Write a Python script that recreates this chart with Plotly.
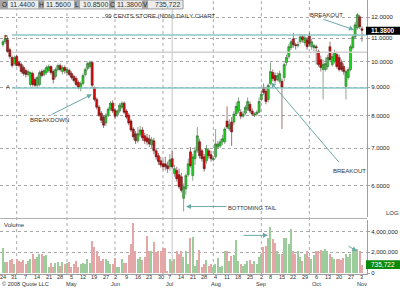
import plotly.graph_objects as go
import pandas as pd
import math

# ---------------- data ----------------
holidays = ["2008-05-26", "2008-07-04", "2008-09-01"]
dates = [d for d in pd.bdate_range("2008-03-24", "2008-11-03") if d.strftime("%Y-%m-%d") not in holidays]

open_ = [10.72, 10.85, 10.94, 10.50, 10.17, 9.92, 10.21, 9.96, 9.88, 9.76,
         9.64, 9.48, 9.10, 9.52, 9.29, 9.07, 9.10, 9.60, 9.48, 9.56,
         9.64, 9.80, 9.60, 9.41, 9.68, 9.84, 9.60, 9.76, 9.56, 9.64,
         9.52, 9.41, 9.33, 9.18, 8.96, 9.14, 9.48, 9.72, 9.80, 9.96,
         8.99, 8.56, 8.29, 8.09, 7.96, 7.77, 8.02, 8.22, 8.43, 8.19,
         8.02, 8.16, 8.29, 8.43, 8.16, 8.02, 7.83, 7.58, 7.43, 7.22,
         7.40, 7.55, 7.37, 7.31, 7.28, 7.10, 7.22, 6.93, 6.79, 6.65,
         6.57, 6.57, 6.52, 6.49, 6.71, 6.31, 6.39, 6.28, 6.23, 5.70,
         5.93, 6.28, 6.90, 6.26, 6.71, 6.93, 7.19, 6.93, 6.76, 6.65,
         6.93, 6.82, 6.68, 6.76, 7.04, 7.07, 7.19, 7.19, 7.83, 7.58,
         7.80, 7.80, 8.06, 8.16, 8.12, 7.99, 8.09, 8.22, 8.39, 8.16,
         8.02, 8.06, 8.12, 8.56, 8.99, 8.85, 8.56, 9.14, 9.56, 9.44,
         9.29, 9.22, 9.22, 9.37, 9.96, 10.21, 10.59, 10.98, 10.72, 10.68,
         10.85, 11.07, 10.81, 10.94, 11.12, 10.63, 10.59, 10.63, 10.42, 10.08,
         9.68, 9.68, 9.80, 10.63, 9.88, 10.00, 10.29, 10.17, 9.96, 9.80,
         9.03, 9.37, 9.68, 10.59, 11.07, 11.49, 12.02, 11.44]

close = [10.85, 10.98, 10.42, 10.21, 9.84, 10.17, 9.84, 9.84, 9.60, 9.52,
         9.48, 9.60, 9.56, 9.10, 9.07, 9.37, 9.56, 9.44, 9.64, 9.76,
         9.80, 9.56, 9.29, 9.68, 9.84, 9.68, 9.76, 9.64, 9.68, 9.48,
         9.37, 9.25, 9.10, 8.99, 9.14, 9.44, 9.68, 9.92, 9.96, 9.07,
         8.56, 8.29, 8.02, 7.86, 7.70, 8.02, 8.22, 8.43, 8.16, 7.99,
         8.16, 8.36, 8.43, 8.12, 7.96, 7.77, 7.55, 7.34, 7.22, 7.43,
         7.55, 7.31, 7.22, 7.19, 7.13, 7.25, 6.93, 6.76, 6.63, 6.54,
         6.49, 6.49, 6.44, 6.68, 6.49, 6.44, 6.18, 5.98, 5.89, 5.98,
         6.26, 6.57, 6.52, 6.76, 6.93, 7.37, 6.79, 6.71, 6.44, 6.99,
         6.79, 6.71, 6.71, 7.13, 7.13, 7.19, 7.28, 7.58, 7.64, 7.73,
         7.49, 8.06, 8.32, 8.49, 7.99, 8.06, 8.29, 8.49, 8.16, 8.06,
         8.06, 8.12, 8.49, 8.74, 8.81, 8.49, 9.07, 9.60, 9.33, 9.25,
         9.44, 9.52, 8.99, 9.88, 10.17, 10.63, 10.85, 10.72, 10.68, 10.72,
         11.07, 10.94, 11.03, 10.63, 10.76, 10.85, 10.68, 10.59, 9.88, 9.76,
         9.88, 9.92, 10.17, 10.08, 10.21, 10.37, 9.80, 9.68, 9.68, 9.60,
         9.60, 9.68, 10.63, 11.07, 11.63, 12.12, 11.54, 11.38]

high = [10.94, 11.17, 11.03, 10.59, 10.25, 10.25, 10.29, 10.04, 9.96, 9.84,
        9.72, 9.68, 9.60, 9.60, 9.37, 9.44, 9.64, 9.68, 9.72, 9.84,
        9.88, 9.84, 9.68, 9.76, 9.92, 9.92, 9.84, 9.84, 9.76, 9.72,
        9.60, 9.48, 9.41, 9.25, 9.22, 9.52, 9.76, 10.00, 10.04, 10.00,
        9.03, 8.63, 8.36, 8.16, 8.02, 8.09, 8.29, 8.49, 8.53, 8.26,
        8.22, 8.43, 8.49, 8.49, 8.22, 8.09, 7.89, 7.64, 7.52, 7.64,
        7.67, 7.64, 7.46, 7.43, 7.40, 7.34, 7.31, 6.99, 6.87, 6.76,
        6.68, 6.76, 6.63, 6.84, 6.93, 6.54, 6.49, 6.44, 6.33, 6.06,
        6.31, 6.71, 7.04, 6.84, 7.04, 7.64, 7.28, 6.99, 6.84, 7.10,
        7.01, 6.93, 6.79, 7.58, 7.22, 7.28, 7.40, 7.64, 8.32, 7.89,
        7.96, 8.16, 8.46, 8.63, 8.22, 8.16, 8.36, 8.63, 8.49, 8.26,
        8.12, 8.19, 8.63, 8.88, 9.14, 8.96, 9.14, 9.96, 9.68, 9.56,
        9.56, 9.64, 9.33, 9.96, 10.29, 10.76, 10.94, 11.26, 10.81, 10.85,
        11.21, 11.17, 11.17, 11.07, 11.26, 10.98, 10.76, 10.72, 10.50, 10.25,
        10.08, 10.17, 10.29, 10.85, 10.33, 10.50, 10.42, 10.29, 10.08, 9.92,
        9.68, 9.76, 10.72, 11.17, 11.77, 12.21, 12.12, 11.56]

low = [10.63, 10.76, 10.37, 10.12, 9.76, 9.84, 9.80, 9.76, 9.52, 9.44,
       9.37, 9.41, 9.03, 9.03, 8.99, 8.99, 9.03, 9.37, 9.41, 9.48,
       9.56, 9.48, 9.14, 9.33, 9.60, 9.60, 9.48, 9.52, 9.48, 9.41,
       9.29, 9.18, 9.03, 8.92, 8.85, 9.07, 9.41, 9.64, 9.72, 8.99,
       8.49, 8.22, 7.96, 7.77, 7.61, 7.67, 7.96, 8.16, 8.09, 7.89,
       7.96, 8.09, 8.22, 8.06, 7.89, 7.70, 7.49, 7.25, 7.13, 7.16,
       7.34, 7.22, 7.13, 7.10, 7.04, 7.01, 6.84, 6.68, 6.54, 6.47,
       6.41, 6.39, 6.33, 6.39, 6.44, 6.23, 6.11, 5.93, 5.84, 5.40,
       5.79, 6.23, 6.47, 6.13, 6.54, 6.87, 6.71, 6.63, 6.36, 6.57,
       6.71, 6.63, 6.63, 6.71, 6.99, 7.01, 7.10, 7.13, 7.58, 7.52,
       7.07, 7.70, 7.99, 8.09, 7.89, 7.93, 8.02, 8.16, 8.09, 7.99,
       7.96, 7.99, 8.09, 8.49, 8.71, 8.39, 8.46, 9.07, 9.22, 9.14,
       9.22, 9.14, 7.58, 9.22, 9.84, 10.12, 10.50, 10.59, 10.50, 10.59,
       10.76, 10.81, 10.68, 10.50, 10.63, 10.50, 10.42, 9.88, 9.80, 9.60,
       8.56, 9.60, 9.68, 10.00, 9.80, 9.92, 9.72, 9.60, 9.60, 9.48,
       8.56, 9.29, 9.60, 10.50, 10.98, 11.40, 11.44, 10.85]

volume_m = [2.4, 1.05, 1.05, 1.2, 1.3, 0.8, 1.3, 1.1, 1.0, 1.2,
            0.8, 1.1, 1.3, 1.75, 1.3, 1.5, 1.75, 1.8, 1.6, 1.65,
            0.55, 0.95, 0.55, 0.95, 1.0, 0.65, 1.0, 0.8, 0.95, 1.0,
            0.55, 0.85, 1.1, 0.55, 0.8, 0.95, 0.8, 1.3, 0.95, 3.0,
            2.5, 2.05, 1.6, 1.1, 1.3, 1.3, 1.1, 0.8, 0.8, 1.4,
            0.55, 0.55, 1.3, 0.95, 0.95, 1.7, 2.7, 4.75, 2.1, 1.3,
            1.5, 1.2, 1.5, 3.5, 2.05, 2.05, 2.95, 2.0, 2.05, 2.05,
            2.4, 2.4, 0.15, 1.3, 1.1, 1.3, 2.05, 1.75, 2.05, 1.5,
            2.05, 0.8, 3.3, 3.4, 0.65, 1.2, 2.2, 0.55, 0.8, 1.2,
            0.65, 0.8, 0.55, 0.8, 1.4, 0.55, 0.65, 2.05, 2.05, 1.1,
            1.6, 1.7, 3.1, 1.1, 0.85, 0.65, 0.8, 1.1, 1.2, 0.8,
            1.1, 0.8, 1.5, 1.8, 2.5, 2.6, 3.3, 4.35, 3.2, 2.85,
            2.05, 1.75, 1.75, 3.3, 3.3, 2.75, 4.2, 2.05, 1.8, 2.05,
            1.5, 1.1, 1.8, 2.05, 1.5, 1.3, 1.7, 2.1, 2.05, 2.2,
            2.1, 2.3, 2.05, 1.8, 1.5, 1.3, 1.3, 1.3, 1.2, 1.4,
            1.75, 1.5, 1.8, 2.2, 2.05, 2.3, 2.05, 0.735722]

price_ticks = [6, 7, 8, 9, 10, 11, 12]
volume_ticks = [0, 2, 4]
volume_tick_text = ["0", "2,000,000", "4,000,000"]
month_labels = ["May", "Jun", "Jul", "Aug", "Sep", "Oct", "Nov"]

level_A = 8.975
level_B = 11.15
level_gray = 10.39

header_letters = ["O", "H", "L", "C", "V"]
header_values = ["11.4400", "11.5600", "10.8500", "11.3800", "735,722"]
last_price_text = "11.3800"
last_volume_text = "735,722"

month_start_dates = ["2008-04-01", "2008-05-01", "2008-06-02", "2008-07-01",
                     "2008-08-01", "2008-09-02", "2008-10-01"]
solid_line_date = "2008-07-08"

# ---------------- helpers ----------------
W, H = 400, 288
FONT = "Liberation Sans, Arial, sans-serif"
date_str = [d.strftime("%Y-%m-%d") for d in dates]
idx = list(range(len(dates)))
X_RANGE = [-1.3, 159.2]
PLOT_R = 367 / W


def px(x):
    return x / W


def py(y):
    return 1 - y / H


fig = go.Figure()

for lvl, col, wid in [(level_gray, "#d0d0d0", 1.5), (level_B, "#8cc6c6", 1.5), (level_A, "#8cc6c6", 1.5)]:
    fig.add_trace(go.Scatter(x=[4, X_RANGE[1]], y=[lvl, lvl], mode="lines",
                             line=dict(color=col, width=wid), xaxis="x", yaxis="y",
                             hoverinfo="skip"))

fig.add_trace(go.Candlestick(
    x=idx, open=open_, high=high, low=low, close=close,
    increasing=dict(line=dict(color="#3a6a3a", width=0.6), fillcolor="#1fd41f"),
    decreasing=dict(line=dict(color="#5a1a1a", width=0.6), fillcolor="#d80c0c"),
    whiskerwidth=0, xaxis="x", yaxis="y", hoverinfo="skip"))

vol_colors = ["#9ccc9c" if c >= o else "#e3a7a7" for o, c in zip(open_, close)]
fig.add_trace(go.Bar(x=idx, y=volume_m, marker=dict(color=vol_colors, line=dict(width=0)),
                     width=0.6, xaxis="x2", yaxis="y2", hoverinfo="skip"))

shapes = []
for ds in month_start_dates:
    i = date_str.index(ds)
    shapes.append(dict(type="line", xref="x", yref="paper", x0=i, x1=i,
                       y0=py(276), y1=1, line=dict(color="#a8a8a8", width=1, dash="dot"),
                       layer="below"))
i = date_str.index(solid_line_date)
shapes.append(dict(type="line", xref="x", yref="paper", x0=i, x1=i,
                   y0=py(276), y1=1, line=dict(color="#c4c4c4", width=1), layer="below"))

shapes.append(dict(type="line", xref="paper", yref="paper", x0=0, x1=PLOT_R,
                   y0=py(220), y1=py(220), line=dict(color="#b0b0b0", width=1)))

shapes.append(dict(type="rect", xref="paper", yref="paper", x0=0, x1=px(183),
                   y0=py(9), y1=1, fillcolor="#ececec", line=dict(color="#9a9a9a", width=1)))
letter_x = [(0, 8), (38, 44), (74, 80), (109, 115), (142, 148)]
value_cx = [22.5, 58.5, 95.5, 129, 167]
for (a, b) in letter_x:
    shapes.append(dict(type="rect", xref="paper", yref="paper", x0=px(a), x1=px(b),
                       y0=py(9), y1=1, fillcolor="#a6a6a6", line=dict(width=0)))

shapes.append(dict(type="rect", xref="paper", yref="paper", x0=px(366), x1=1,
                   y0=py(35), y1=py(27), fillcolor="#000000", line=dict(width=0)))
shapes.append(dict(type="rect", xref="paper", yref="paper", x0=px(366), x1=1,
                   y0=py(271), y1=py(262), fillcolor="#0a8a0a", line=dict(width=0)))

ann = []


def text(x, y, s, size=6, color="#333333", anchor="center", bold=False):
    ann.append(dict(x=px(x), y=py(y), xref="paper", yref="paper", text=("<b>%s</b>" % s) if bold else s,
                    showarrow=False, xanchor=anchor, yanchor="middle", borderpad=0,
                    font=dict(family=FONT, size=size, color=color)))


def arrow(x0, y0, x1, y1):
    ann.append(dict(x=px(x1), y=py(y1), xref="paper", yref="paper", text="",
                    showarrow=True, ax=x0 - x1, ay=y0 - y1, axref="pixel", ayref="pixel",
                    arrowhead=2, arrowsize=1, arrowwidth=1, arrowcolor="#6aa8a8",
                    standoff=0, startstandoff=0))


for (a, b), letter in zip(letter_x, header_letters):
    text((a + b) / 2, 4.8, letter, size=6.5, color="#222222")
for cx, v in zip(value_cx, header_values):
    text(cx, 4.8, v, size=7, color="#333333")

text(160, 16, "99 CENTS STORE (NDN) DAILY CHART", size=6)
text(326, 15, "BREAKOUT", size=6)
arrow(322, 19, 354, 30)
text(49, 121, "BREAKDOWN", size=6)
arrow(50, 116, 92, 95)
text(253, 209, "BOTTOMING TAIL", size=5.8)
arrow(228, 208, 186, 208)
text(349, 172, "BREAKOUT", size=6)
arrow(340, 164, 271, 83)
arrow(242, 237, 268, 237)
arrow(347, 247, 357, 253)

text(6, 37, "B", size=6)
text(8, 88, "A", size=6)
text(392, 214, "LOG", size=6)
text(3, 227, "Volume", size=6, anchor="left")
text(383, 31, last_price_text, size=6.5, color="#ffffff", bold=True)
text(383, 266.5, last_volume_text, size=6.5, color="#ffffff")
text(1, 286.3, "\u00a9 2008 Quote LLC", size=5.6, anchor="left")

prev = None
prev_month = dates[0].month
for i, d in enumerate(dates):
    if prev is None or d.weekday() < prev.weekday() or (d - prev).days > 3:
        ann.append(dict(x=i, y=py(279.0), xref="x2", yref="paper", text=str(d.day),
                        showarrow=False, xanchor="center", yanchor="middle", borderpad=0,
                        font=dict(family=FONT, size=5.6, color="#333333")))
        if d.month != prev_month and d.strftime("%b") in month_labels:
            ann.append(dict(x=i, y=py(286.3), xref="x2", yref="paper", text=d.strftime("%b"),
                            showarrow=False, xanchor="center", yanchor="middle", borderpad=0,
                            font=dict(family=FONT, size=5.6, color="#333333")))
        prev_month = d.month
    prev = d

fig.update_layout(
    width=W, height=H, margin=dict(l=0, r=0, t=0, b=0), autosize=False,
    paper_bgcolor="white", plot_bgcolor="white", showlegend=False,
    font=dict(family=FONT, size=6, color="#333333"),
    boxgap=0.12, boxgroupgap=0,
    xaxis=dict(domain=[0, PLOT_R], range=X_RANGE, anchor="y", showticklabels=False,
               showgrid=False, zeroline=False, rangeslider=dict(visible=False), fixedrange=True),
    xaxis2=dict(domain=[0, PLOT_R], range=X_RANGE, anchor="y2", matches="x", showticklabels=False,
                showgrid=False, zeroline=False, showline=True, linecolor="#a0a0a0", linewidth=1),
    yaxis=dict(domain=[py(219), 1], type="log",
               range=[math.log10(5.269), math.log10(12.88)],
               side="right", anchor="x", tickvals=price_ticks,
               ticktext=["%.4f" % v for v in price_ticks],
               showgrid=True, gridcolor="#a8a8a8", griddash="dot", gridwidth=1,
               showline=True, linecolor="#a0a0a0", linewidth=1, ticks="outside", ticklen=2,
               tickcolor="#a0a0a0", tickfont=dict(size=6, color="#222222"), zeroline=False),
    yaxis2=dict(domain=[py(276), py(222)], range=[-0.095, 5.05], side="right", anchor="x2",
                tickvals=volume_ticks, ticktext=volume_tick_text,
                showgrid=True, gridcolor="#a8a8a8", griddash="dot", gridwidth=1,
                showline=True, linecolor="#a0a0a0", linewidth=1, ticks="outside", ticklen=2,
                tickcolor="#a0a0a0", tickfont=dict(size=6, color="#222222"), zeroline=False),
    shapes=shapes, annotations=ann, bargap=0,
)

fig.write_html("out.html")
